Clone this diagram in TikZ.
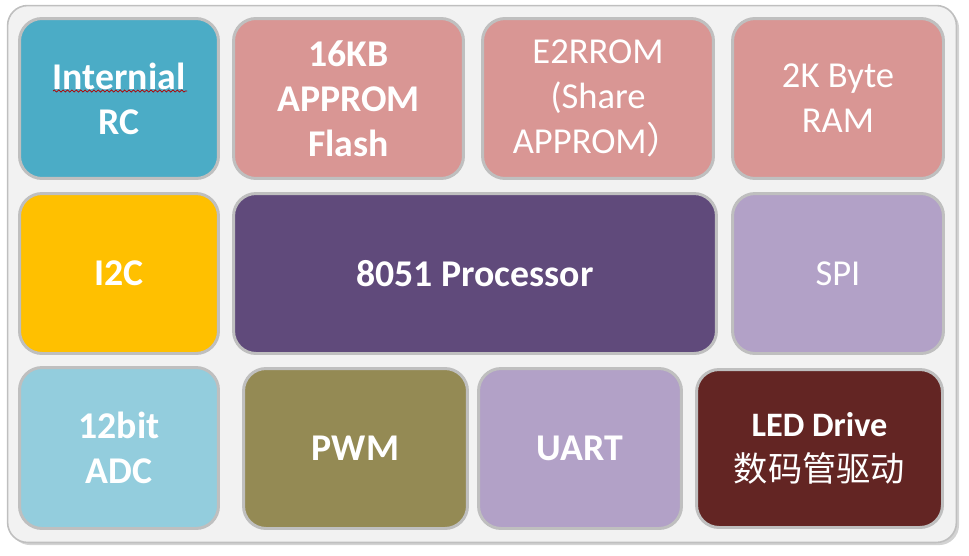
\documentclass[tikz,border=0pt]{standalone}
\usepackage{fontspec}
\setmainfont{Carlito}
\newfontfamily\cjk{Noto Sans CJK SC}
\usetikzlibrary{shadows,decorations.pathmorphing}
\definecolor{frameback}{HTML}{F2F2F2}
\definecolor{edgegray}{HTML}{BFBFBF}
\definecolor{rcblue}{HTML}{4BACC6}
\definecolor{mempink}{HTML}{D99694}
\definecolor{busgold}{HTML}{FFC000}
\definecolor{cpupurple}{HTML}{604A7B}
\definecolor{lilac}{HTML}{B2A1C7}
\definecolor{adcblue}{HTML}{93CDDD}
\definecolor{olive}{HTML}{948A54}
\definecolor{ledred}{HTML}{632523}
\begin{document}
\begin{tikzpicture}[x=0.02cm,y=-0.02cm,
  blk/.style={draw=edgegray,line width=1.7pt,rounded corners=0.45cm,inner sep=0pt,
    text=white,align=center,minimum height=3.2cm,font=\fontsize{21.5}{25.5}\selectfont\bfseries},
  thin/.style={font=\fontsize{20.8}{25.5}\selectfont}]
\useasboundingbox (0,0) rectangle (969,555);
\node[draw=edgegray,line width=0.9pt,fill=frameback,rounded corners=0.4cm,inner sep=0pt,
  minimum width=18.98cm,minimum height=10.74cm,
  drop shadow={shadow xshift=1.5pt,shadow yshift=-1.5pt,opacity=0.35}] (frame) at (482,274) {};
\node[blk,fill=rcblue,minimum width=3.98cm] (rc) at (119,98.5) {Internial\\RC};
\node[blk,fill=mempink,minimum width=4.60cm] (flash) at (348.5,98.5) {16KB\\APPROM\\Flash};
\node[blk,thin,fill=mempink,minimum width=4.62cm] (eeprom) at (598,98.5) {E2RROM\\(Share\\APPROM{\cjk ）}};
\node[blk,thin,fill=mempink,minimum width=4.22cm] (ram) at (838,98.5) {2K Byte\\RAM};
\node[blk,fill=busgold,minimum width=3.98cm] (i2c) at (119,273.5) {I2C};
\node[blk,fill=cpupurple,minimum width=9.66cm] (cpu) at (475,273.5) {8051 Processor};
\node[blk,thin,fill=lilac,minimum width=4.22cm] (spi) at (838,273.5) {SPI};
\node[blk,fill=adcblue,minimum width=3.98cm,minimum height=3.22cm] (adc) at (119,448) {12bit\\ADC};
\node[blk,fill=olive,minimum width=4.48cm] (pwm) at (355.5,448.5) {PWM};
\node[blk,fill=lilac,minimum width=4.06cm] (uart) at (580,448.5) {UART};
\node[blk,fill=ledred,minimum width=4.92cm,minimum height=3.16cm,
  font=\fontsize{19.5}{25.5}\selectfont\bfseries] (led) at (819.5,448.5)
  {LED Drive\\{\cjk\mdseries\fontsize{19.5}{25.5}\selectfont 数码管驱动}};
\draw[red!70!black,line width=0.4pt,decorate,decoration={snake,amplitude=0.6pt,segment length=2.5pt}]
  (53,91) -- (187,91);
\end{tikzpicture}
\end{document}
